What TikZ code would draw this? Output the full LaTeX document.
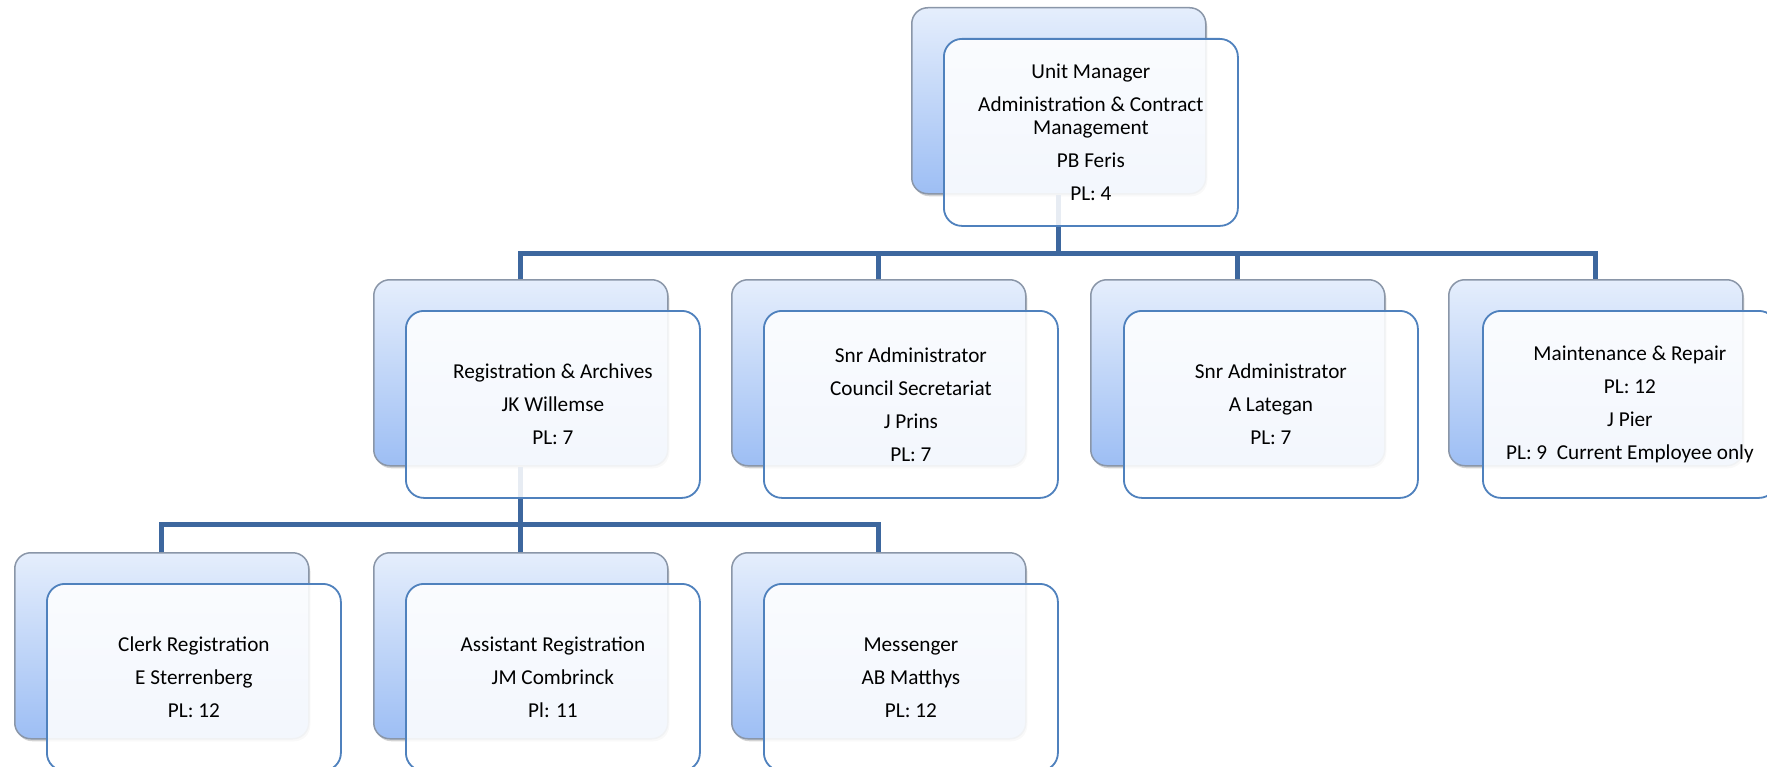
\documentclass[tikz,border=0pt]{standalone}
\usepackage{fontspec}
\setmainfont{Carlito}
\usetikzlibrary{shadows}
\definecolor{linkblue}{HTML}{3D679E}
\definecolor{frameblue}{HTML}{4F81BD}
\definecolor{backtop}{HTML}{E5EEFC}
\definecolor{backbot}{HTML}{9DBEF4}
\definecolor{backedge}{HTML}{8A96A8}
\tikzset{
  backcard/.style={draw=backedge, line width=1.5bp, rounded corners=16bp,
    top color=backtop, bottom color=backbot,
    minimum width=294bp, minimum height=186bp, anchor=north west, inner sep=0pt,
    drop shadow={shadow xshift=1.5bp, shadow yshift=-2.5bp, opacity=0.35}},
  frontcard/.style={draw=frameblue, line width=1.8bp, rounded corners=18bp,
    fill=white, fill opacity=0.88, text opacity=1,
    minimum width=294bp, minimum height=187bp, anchor=north west, inner sep=0pt,
    align=center, font=\fontsize{21.3}{23}\selectfont},
  link/.style={draw=linkblue, line width=5bp},
}
\newcommand{\gap}{\\[10bp]}
\begin{document}
\begin{tikzpicture}[x=1bp, y=-1bp]
\useasboundingbox (0,0) rectangle (1767,767);

% back cards
\node[backcard] (b0) at (911,7) {};
\node[backcard] (b1) at (373,279) {};
\node[backcard] (b2) at (731,279) {};
\node[backcard] (b3) at (1090,279) {};
\node[backcard] (b4) at (1448,279) {};
\node[backcard] (b5) at (14,552) {};
\node[backcard] (b6) at (373,552) {};
\node[backcard] (b7) at (731,552) {};

% bus lines
\coordinate (bus1) at (1058,253);
\coordinate (bus2) at (520,524.5);
\draw[link] (b0.south) -- (b0.south |- bus1) -| (b1.north);
\draw[link] (b0.south |- bus1) -| (b2.north);
\draw[link] (b0.south |- bus1) -| (b3.north);
\draw[link] (b0.south |- bus1) -| (b4.north);
\draw[link] (b1.south) -- (b1.south |- bus2) -| (b5.north);
\draw[link] (b1.south |- bus2) -| (b6.north);
\draw[link] (b1.south |- bus2) -| (b7.north);

% front cards with text
\node[frontcard] (f0) at (943,38) {Unit Manager\gap Administration \& Contract\\ Management\gap PB Feris\gap PL: 4};
\node[frontcard] (f1) at (405,310) {Registration \& Archives\gap JK Willemse\gap PL: 7};
\node[frontcard] (f2) at (763,310) {Snr Administrator\gap Council Secretariat\gap J Prins\gap PL: 7};
\node[frontcard] (f3) at (1123,310) {Snr Administrator\gap A Lategan\gap PL: 7};
\node[frontcard] (f4) at (1482,310) {Maintenance \& Repair\gap PL: 12\gap J Pier\gap PL: 9\ \ Current Employee only};
\node[frontcard] (f5) at (46,583) {Clerk Registration\gap E Sterrenberg\gap PL: 12};
\node[frontcard] (f6) at (405,583) {Assistant Registration\gap JM Combrinck\gap Pl: 11};
\node[frontcard] (f7) at (763,583) {Messenger\gap AB Matthys\gap PL: 12};
\end{tikzpicture}
\end{document}
